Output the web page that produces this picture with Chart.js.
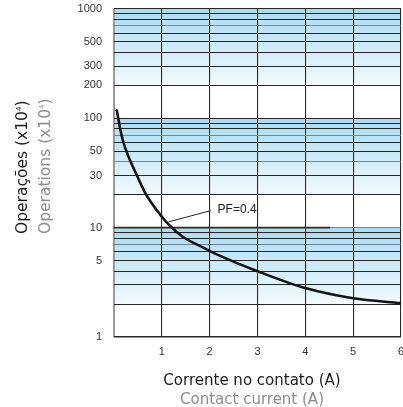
<!DOCTYPE html>
<html>
<head>
<meta charset="utf-8">
<script src="https://cdn.jsdelivr.net/npm/chart.js@4"></script>
<style>
  html, body { margin: 0; padding: 0; background: #fff; overflow: hidden; width: 403px; height: 407px; }
  #wrap { position: relative; width: 403px; height: 407px; overflow: hidden; }
  canvas { position: absolute; left: 0; top: 0; }
  .ytitle { position: absolute; left: 9px; top: 234px; transform: rotate(-90deg); transform-origin: left top;
            font-family: "DejaVu Sans", sans-serif; font-size: 15.5px; line-height: 20px; text-align: left; white-space: nowrap; }
  .xtitle { position: absolute; left: 252px; top: 371px; transform: translateX(-50%);
            font-family: "DejaVu Sans", sans-serif; font-size: 15px; line-height: 19px; text-align: center; white-space: nowrap; }
  .en { color: #8c8c8c; }
  .pt { color: #1a1a1a; }
  sup { font-size: 7px; vertical-align: 6px; }
</style>
</head>
<body>
<div id="wrap">
  <canvas id="chart" width="412" height="407"></canvas>
  <div class="ytitle"><div class="pt">Operações (x10<sup>4</sup>)</div><div class="en">Operations (x10<sup>4</sup>)</div></div>
  <div class="xtitle"><div class="pt">Corrente no contato (A)</div><div class="en">Contact current (A)</div></div>
</div>
<script>
// curva PF=0.4
const current = [0.04, 0.06, 0.09, 0.13, 0.19, 0.3, 0.48, 0.66, 1.0, 1.19, 1.43, 1.92, 2.15, 3, 4, 5, 6];
const operations = [120, 117, 100, 80, 62, 45, 30, 20.5, 12.6, 10.2, 8.3, 6.4, 5.7, 4.0, 2.8, 2.26, 2.04];

const yGridValues = [1, 2, 3, 4, 5, 6, 7, 8, 9, 10, 20, 30, 40, 50, 60, 70, 80, 90, 100, 200, 300, 400, 500, 600, 700, 800, 900, 1000];
const yTickLabels = [1, 5, 10, 30, 50, 100, 200, 300, 500, 1000];
const xTickLabels = [1, 2, 3, 4, 5, 6];
const bandStarts = [2, 20, 200];

const curveLabel = 'PF=0.4';
const leaderFrom = { x: 1.14, y: 11.3 };
const leaderTo = { x: 2.02, y: 14.3 };

const bandsPlugin = {
    id: 'bands',
    beforeDraw(chart) {
        const ctx = chart.ctx;
        const area = chart.chartArea;
        const y = chart.scales.y;
        ctx.save();
        bandStarts.forEach(start => {
            const bottom = y.getPixelForValue(start);
            const top = y.getPixelForValue(start * 5);
            const grad = ctx.createLinearGradient(0, bottom, 0, top);
            grad.addColorStop(0, '#f3fafe');
            grad.addColorStop(1, '#a9dcf2');
            ctx.fillStyle = grad;
            ctx.fillRect(area.left, top, area.right - area.left, bottom - top);
        });
        ctx.restore();
    }
};

const leaderPlugin = {
    id: 'leader',
    afterDatasetsDraw(chart) {
        const ctx = chart.ctx;
        const xs = chart.scales.x;
        const ys = chart.scales.y;
        const x1 = xs.getPixelForValue(leaderFrom.x), y1 = ys.getPixelForValue(leaderFrom.y);
        const x2 = xs.getPixelForValue(leaderTo.x), y2 = ys.getPixelForValue(leaderTo.y);
        ctx.save();
        ctx.strokeStyle = '#222';
        ctx.lineWidth = 1;
        ctx.beginPath();
        ctx.moveTo(x1, y1);
        ctx.lineTo(x2, y2);
        ctx.stroke();
        ctx.fillStyle = '#222';
        ctx.font = '12px "Liberation Sans", Arial, sans-serif';
        ctx.textBaseline = 'middle';
        ctx.fillText(curveLabel, x2 + 7, y2 - 1);
        ctx.restore();
    }
};

new Chart(document.getElementById('chart'), {
    type: 'line',
    data: {
        datasets: [{
            data: current.map((c, i) => ({ x: c, y: operations[i] })),
            borderColor: '#141414',
            borderWidth: 2.6,
            pointRadius: 0,
            cubicInterpolationMode: 'monotone',
            fill: false
        }, {
            // linha escura em 10 que vai ate ~4.5
            data: [{ x: 0, y: 10 }, { x: 4.52, y: 10 }],
            borderColor: '#2a2a2a',
            borderWidth: 1.6,
            pointRadius: 0
        }]
    },
    options: {
        responsive: false,
        animation: false,
        layout: { padding: { top: 9, right: 8, left: 0, bottom: 0 } },
        plugins: { legend: { display: false }, tooltip: { enabled: false } },
        scales: {
            x: {
                type: 'linear',
                min: 0,
                max: 6,
                afterFit(scale) { scale.height = 70; },
                afterBuildTicks(scale) { scale.ticks = [0].concat(xTickLabels).map(v => ({ value: v })); },
                ticks: {
                    padding: 8,
                    color: '#333',
                    font: { family: '"Liberation Sans", Arial, sans-serif', size: 11 },
                    callback: v => (v === 0 ? '' : String(v))
                },
                grid: {
                    drawTicks: false,
                    color: ctx => (ctx.tick && ctx.tick.value === 0 ? '#9a9a9a' : '#2b2b2b'),
                    lineWidth: ctx => (ctx.tick && ctx.tick.value === 0 ? 2 : 1.1)
                },
                border: { display: false }
            },
            y: {
                type: 'logarithmic',
                min: 1,
                max: 1000,
                afterFit(scale) {
                    scale.width = 114;
                    scale.paddingTop = 0;
                    scale.paddingBottom = 0;
                },
                afterBuildTicks(scale) { scale.ticks = yGridValues.map(v => ({ value: v })); },
                ticks: {
                    padding: 12,
                    color: '#333',
                    autoSkip: false,
                    font: { family: '"Liberation Sans", Arial, sans-serif', size: 11 },
                    callback: v => (yTickLabels.includes(v) ? String(v) : '')
                },
                grid: {
                    drawTicks: false,
                    color: ctx => {
                        const v = ctx.tick && ctx.tick.value;
                        if (v === 10) return '#5f8fa6';
                        if (v === 70 || v === 40 || v === 700 || v === 7) return '#6d8794';
                        return '#262626';
                    },
                    lineWidth: ctx => (ctx.tick && ctx.tick.value === 1 ? 1.6 : 1.1)
                },
                border: { display: false }
            }
        }
    },
    plugins: [bandsPlugin, leaderPlugin]
});
</script>
</body>
</html>
